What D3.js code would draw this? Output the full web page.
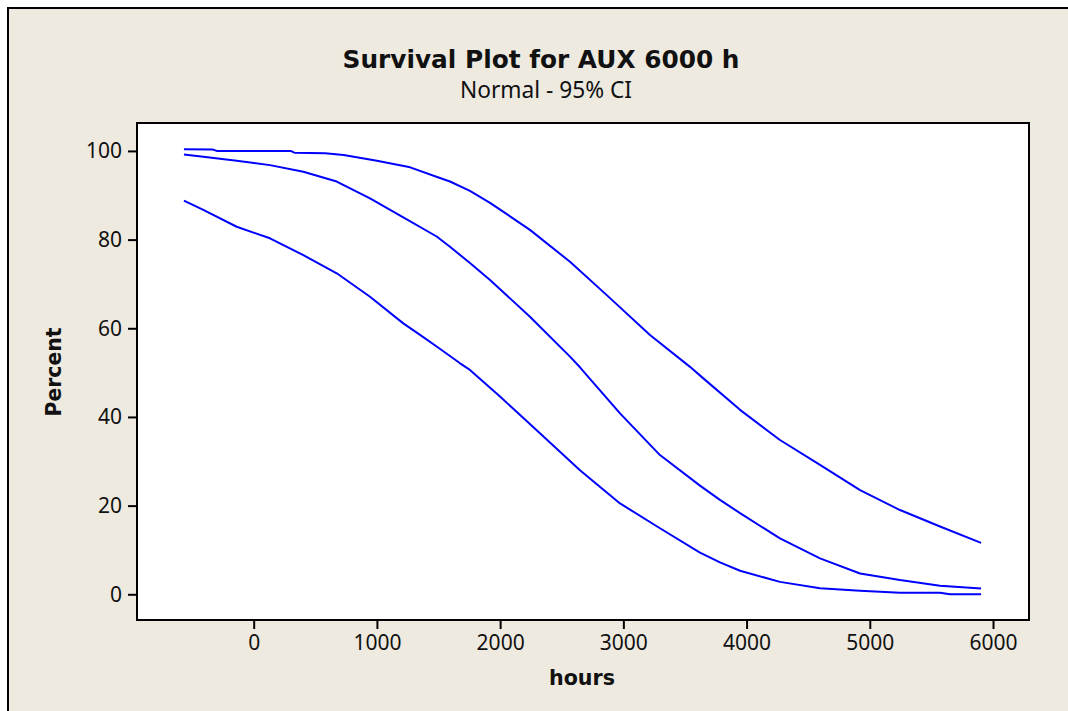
<!DOCTYPE html>
<html>
<head>
<meta charset="utf-8">
<script src="https://cdn.jsdelivr.net/npm/d3@7"></script>
<style>
  html, body { margin: 0; padding: 0; background: #ffffff; overflow: hidden; }
  svg { display: block; }
</style>
</head>
<body>
<svg id="chart" width="1068" height="711"></svg>
<script>
// ---- Data ----
const title = "Survival Plot for AUX 6000 h";
const subtitle = "Normal - 95% CI";
const xLabel = "hours";
const yLabel = "Percent";
const xTicks = [0, 1000, 2000, 3000, 4000, 5000, 6000];
const yTicks = [0, 20, 40, 60, 80, 100];

// upper 95% confidence bound
const upperHours = [-566, -330, -300, 300, 330, 580, 730, 1000, 1270, 1500, 1593, 1755, 1918, 2242, 2567, 2892, 3216, 3541, 3649, 3947, 4271, 4596, 4921, 5245, 5570, 5903];
const upperPct   = [100.4, 100.3, 100.0, 100.0, 99.6, 99.5, 99.1, 97.8, 96.3, 94.0, 93.1, 91.0, 88.3, 82.2, 75.0, 66.8, 58.5, 51.3, 48.7, 41.6, 34.8, 29.2, 23.5, 19.0, 15.3, 11.6];

// fitted survival
const fitHours = [-566, -409, -138, 132, 403, 674, 944, 1214, 1485, 1593, 1755, 1918, 2242, 2567, 2648, 2729, 2973, 3297, 3622, 3784, 3947, 4271, 4596, 4921, 5245, 5570, 5903];
const fitPct   = [99.2, 98.7, 97.8, 96.8, 95.3, 93.1, 89.3, 85.0, 80.7, 78.4, 74.7, 70.9, 62.6, 53.6, 51.2, 48.6, 40.8, 31.4, 24.5, 21.3, 18.3, 12.6, 8.1, 4.7, 3.2, 1.9, 1.3];

// lower 95% confidence bound
const lowerHours = [-566, -409, -138, 132, 403, 674, 944, 1214, 1350, 1485, 1675, 1755, 1999, 2323, 2648, 2973, 3297, 3622, 3784, 3947, 4271, 4596, 4921, 5245, 5570, 5650, 5903];
const lowerPct   = [88.8, 86.7, 82.9, 80.3, 76.5, 72.4, 67.1, 61.1, 58.5, 55.9, 52.1, 50.6, 44.6, 36.3, 28.0, 20.5, 14.9, 9.4, 7.2, 5.3, 2.8, 1.35, 0.8, 0.36, 0.36, 0.0, 0.0];

const xDomain = [-947, 6292];
const yDomain = [-5.8, 106.3];

// ---- Layout ----
const W = 1068, H = 711;
const plot = { left: 137, top: 123, right: 1029, bottom: 620 };
const bg = "#EEEAE0";
const font = "'Noto Sans', 'DejaVu Sans', sans-serif";
const boldFont = "'DejaVu Sans', 'Noto Sans', sans-serif";

const svg = d3.select("#chart");

// page background & outer frame
svg.append("rect").attr("x", 0).attr("y", 0).attr("width", W).attr("height", H).attr("fill", "#ffffff");
svg.append("rect").attr("x", 8).attr("y", 8).attr("width", W - 8).attr("height", H - 8).attr("fill", bg);
svg.append("path")
  .attr("d", `M8,${H} L8,8 L${W},8`)
  .attr("fill", "none").attr("stroke", "#000").attr("stroke-width", 2);

const x = d3.scaleLinear().domain(xDomain).range([plot.left, plot.right]);
const y = d3.scaleLinear().domain(yDomain).range([plot.bottom, plot.top]);

// plot area
svg.append("rect")
  .attr("x", plot.left).attr("y", plot.top)
  .attr("width", plot.right - plot.left).attr("height", plot.bottom - plot.top)
  .attr("fill", "#ffffff").attr("stroke", "#000").attr("stroke-width", 2);

// axes
const xAxis = d3.axisBottom(x).tickValues(xTicks).tickSize(9).tickPadding(6).tickFormat(d3.format("d"));
const yAxis = d3.axisLeft(y).tickValues(yTicks).tickSize(9).tickPadding(6).tickFormat(d3.format("d"));

const gx = svg.append("g").attr("transform", `translate(0,${plot.bottom})`).call(xAxis);
const gy = svg.append("g").attr("transform", `translate(${plot.left},0)`).call(yAxis);
[gx, gy].forEach(g => {
  g.select(".domain").remove();
  g.selectAll(".tick line").attr("stroke", "#000").attr("stroke-width", 2);
  g.selectAll(".tick text").attr("fill", "#111").style("font-family", font).style("font-size", "21px");
});

// lines
const line = d3.line().x(d => x(d[0])).y(d => y(d[1]));
const series = [
  d3.zip(upperHours, upperPct),
  d3.zip(fitHours, fitPct),
  d3.zip(lowerHours, lowerPct)
];
svg.append("g").selectAll("path").data(series).join("path")
  .attr("d", line)
  .attr("fill", "none")
  .attr("stroke", "#0000FF")
  .attr("stroke-width", 2)
  .attr("stroke-linejoin", "round");

// helper: size a text so it spans a target width
function fitText(sel, base, target) {
  sel.style("font-size", base + "px");
  const len = sel.node().getComputedTextLength();
  if (len > 0) sel.style("font-size", (base * target / len).toFixed(2) + "px");
  return sel;
}

// titles
fitText(svg.append("text").attr("x", 541).attr("y", 68).attr("text-anchor", "middle")
  .style("font-family", boldFont).style("font-weight", "bold")
  .attr("fill", "#111").text(title), 21, 397);
fitText(svg.append("text").attr("x", 546).attr("y", 98).attr("text-anchor", "middle")
  .style("font-family", font)
  .attr("fill", "#111").text(subtitle), 19, 172);

// axis labels
fitText(svg.append("text").attr("x", 582).attr("y", 685).attr("text-anchor", "middle")
  .style("font-family", boldFont).style("font-weight", "bold")
  .attr("fill", "#111").text(xLabel), 20, 66);
fitText(svg.append("text").attr("transform", "translate(61,372) rotate(-90)").attr("text-anchor", "middle")
  .style("font-family", boldFont).style("font-weight", "bold")
  .attr("fill", "#111").text(yLabel), 20, 89);
</script>
</body>
</html>
